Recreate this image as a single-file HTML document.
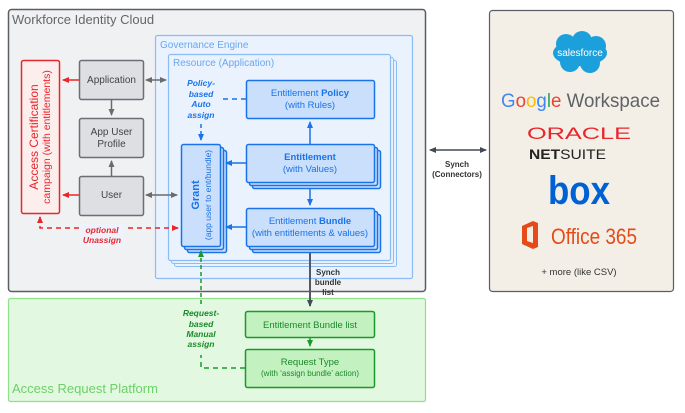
<!DOCTYPE html>
<html><head><meta charset="utf-8"><style>
html,body{margin:0;padding:0;background:#fff}
svg{display:block}
text{font-family:"Liberation Sans",Arial,sans-serif}
</style></head><body>
<svg width="685" height="413" viewBox="0 0 685 413" xmlns="http://www.w3.org/2000/svg">
<defs>
<marker id="ag" markerWidth="8" markerHeight="8" refX="6" refY="4" orient="auto-start-reverse" markerUnits="userSpaceOnUse"><path d="M0,1 L7,4 L0,7 Z" fill="#6b6b6b"/></marker>
<marker id="ad" markerWidth="8" markerHeight="8" refX="6" refY="4" orient="auto-start-reverse" markerUnits="userSpaceOnUse"><path d="M0,1 L7,4 L0,7 Z" fill="#444a55"/></marker>
<marker id="ar" markerWidth="8" markerHeight="8" refX="6" refY="4" orient="auto-start-reverse" markerUnits="userSpaceOnUse"><path d="M0,1 L7,4 L0,7 Z" fill="#e8262b"/></marker>
<marker id="ab" markerWidth="8" markerHeight="8" refX="6" refY="4" orient="auto-start-reverse" markerUnits="userSpaceOnUse"><path d="M0,1 L7,4 L0,7 Z" fill="#1a73e8"/></marker>
<marker id="agr" markerWidth="8" markerHeight="8" refX="6" refY="4" orient="auto-start-reverse" markerUnits="userSpaceOnUse"><path d="M0,1 L7,4 L0,7 Z" fill="#1a9a2a"/></marker>
</defs>

<rect x="8.5" y="9.5" width="417" height="282" rx="3" fill="#f0f1f3" stroke="#5a5d63" stroke-width="1.5"/>
<text x="12" y="24" font-size="13" fill="#666">Workforce Identity Cloud</text>

<rect x="155.5" y="35.5" width="257" height="243" rx="2" fill="#e9f2fd" stroke="#8cbcf5" stroke-width="1.2"/>
<text x="160" y="48" font-size="10" fill="#6aa7f0">Governance Engine</text>
<rect x="174.5" y="60.5" width="222" height="206" rx="2" fill="#e9f2fd" stroke="#8cbcf5"/>
<rect x="171.5" y="57.5" width="222" height="206" rx="2" fill="#e9f2fd" stroke="#8cbcf5"/>
<rect x="168.5" y="54.5" width="222" height="206" rx="2" fill="#e9f2fd" stroke="#8cbcf5" stroke-width="1.2"/>
<text x="173" y="66" font-size="10" fill="#6aa7f0">Resource (Application)</text>

<rect x="489.5" y="10.5" width="184" height="281" rx="3" fill="#f3efe6" stroke="#5a5d63" stroke-width="1.2"/>

<rect x="8.5" y="298.5" width="417" height="103" rx="2" fill="#e3f8e0" stroke="#8ee08a" stroke-width="1.2"/>
<text x="12" y="393" font-size="13" fill="#6cd168">Access Request Platform</text>

<rect x="21.5" y="60.5" width="38" height="153" rx="2" fill="#fdeeee" stroke="#e8262b" stroke-width="1.5"/>
<text transform="translate(40,137) rotate(-90)" text-anchor="middle" font-size="12" fill="#e8262b"><tspan x="0" dy="-2">Access Certification</tspan><tspan x="0" dy="12" font-size="10.5">campaign (with entitlements)</tspan></text>

<g fill="#dddfe3" stroke="#6b6e74" stroke-width="1.5">
<rect x="79.5" y="60.5" width="64" height="39" rx="2"/>
<rect x="79.5" y="118.5" width="64" height="39" rx="2"/>
<rect x="79.5" y="176.5" width="64" height="39" rx="2"/>
</g>
<g font-size="10" fill="#444" text-anchor="middle">
<text x="111.5" y="83">Application</text>
<text x="111.5" y="135">App User</text>
<text x="111.5" y="147">Profile</text>
<text x="111.5" y="198">User</text>
</g>
<g stroke="#6b6b6b" stroke-width="1.5" fill="none">
<line x1="111.5" y1="100" x2="111.5" y2="115" marker-end="url(#ag)"/>
<line x1="111.5" y1="176" x2="111.5" y2="161" marker-end="url(#ag)"/>
<line x1="146" y1="80" x2="166" y2="80" marker-start="url(#ag)" marker-end="url(#ag)"/>
<line x1="146" y1="195" x2="177" y2="195" marker-start="url(#ag)" marker-end="url(#ag)"/>
</g>
<g stroke="#e8262b" stroke-width="1.5" fill="none">
<line x1="79" y1="80" x2="63" y2="80" marker-end="url(#ar)"/>
<line x1="79" y1="195" x2="63" y2="195" marker-end="url(#ar)"/>
<path d="M178,228 L40,228 L40,217" stroke-dasharray="5,4" marker-start="url(#ar)" marker-end="url(#ar)"/>
</g>
<rect x="80" y="224" width="45" height="22" fill="#eef3fb"/>
<text x="102" y="233" font-size="8.5" font-weight="bold" font-style="italic" fill="#e8262b" text-anchor="middle">optional</text>
<text x="102" y="243" font-size="8.5" font-weight="bold" font-style="italic" fill="#e8262b" text-anchor="middle">Unassign</text>

<g stroke="#1a73e8" stroke-width="1.5" fill="#c9dffb">
<rect x="187.5" y="150.5" width="39" height="102" rx="2"/>
<rect x="184.5" y="147.5" width="39" height="102" rx="2"/>
<rect x="181.5" y="144.5" width="39" height="102" rx="2"/>
<rect x="246.5" y="80.5" width="128" height="38" rx="2"/>
<rect x="252.5" y="150.5" width="128" height="38" rx="2"/>
<rect x="249.5" y="147.5" width="128" height="38" rx="2"/>
<rect x="246.5" y="144.5" width="128" height="38" rx="2"/>
<rect x="252.5" y="214.5" width="128" height="38" rx="2"/>
<rect x="249.5" y="211.5" width="128" height="38" rx="2"/>
<rect x="246.5" y="208.5" width="128" height="38" rx="2"/>
</g>
<g font-size="9.5" fill="#1a73e8" text-anchor="middle">
<text x="310" y="96">Entitlement <tspan font-weight="bold">Policy</tspan></text>
<text x="310" y="108">(with Rules)</text>
<text x="310" y="160" font-weight="bold">Entitlement</text>
<text x="310" y="172">(with Values)</text>
<text x="310" y="224">Entitlement <tspan font-weight="bold">Bundle</tspan></text>
<text x="310" y="236">(with entitlements &amp; values)</text>
</g>
<text transform="translate(201,195) rotate(-90)" text-anchor="middle" fill="#1a73e8"><tspan x="0" dy="-2" font-size="11" font-weight="bold">Grant</tspan><tspan x="0" dy="12" font-size="8.5">(app user to ent/bundle)</tspan></text>

<g stroke="#1a73e8" stroke-width="1.5" fill="none">
<line x1="310" y1="144" x2="310" y2="122" marker-end="url(#ab)"/>
<line x1="310" y1="189" x2="310" y2="205" marker-end="url(#ab)"/>
<line x1="246" y1="163" x2="226" y2="163" marker-end="url(#ab)"/>
<line x1="246" y1="227" x2="226" y2="227" marker-end="url(#ab)"/>
<line x1="246" y1="99" x2="220" y2="99" stroke-dasharray="5,4"/>
<line x1="201" y1="124" x2="201" y2="140" stroke-dasharray="4,3" marker-end="url(#ab)"/>
</g>
<g font-size="8.5" font-weight="bold" font-style="italic" fill="#1a73e8" text-anchor="middle">
<text x="201" y="86">Policy-</text>
<text x="201" y="97">based</text>
<text x="201" y="107">Auto</text>
<text x="201" y="118">assign</text>
</g>

<line x1="310" y1="253" x2="310" y2="306" stroke="#555a62" stroke-width="2" marker-end="url(#ad)"/>
<g font-size="8" font-weight="bold" fill="#333" text-anchor="middle">
<text x="328" y="275">Synch</text>
<text x="328" y="285">bundle</text>
<text x="328" y="295">list</text>
</g>

<g fill="#c3f1c0" stroke="#1a9a2a" stroke-width="1.5">
<rect x="245.5" y="311.5" width="129" height="26" rx="2"/>
<rect x="245.5" y="349.5" width="129" height="38" rx="2"/>
</g>
<g fill="#1a8a2a" text-anchor="middle">
<text x="310" y="328" font-size="9.5">Entitlement Bundle list</text>
<text x="310" y="365" font-size="9.5">Request Type</text>
<text x="310" y="376" font-size="8">(with ‘assign bundle’ action)</text>
</g>
<g stroke="#1a9a2a" stroke-width="1.5" fill="none">
<line x1="310" y1="338" x2="310" y2="346" marker-end="url(#agr)"/>
<path d="M245,368 L201,368 L201,355" stroke-dasharray="5,4"/>
<path d="M201,304 L201,251" stroke-dasharray="4,3" marker-end="url(#agr)"/>
</g>
<g font-size="8.5" font-weight="bold" font-style="italic" fill="#1a8a2a" text-anchor="middle">
<text x="201" y="316">Request-</text>
<text x="201" y="327">based</text>
<text x="201" y="337">Manual</text>
<text x="201" y="347">assign</text>
</g>

<line x1="430" y1="150" x2="486" y2="150" stroke="#444a55" stroke-width="1.5" marker-start="url(#ad)" marker-end="url(#ad)"/>
<text x="457" y="167" font-size="8" font-weight="bold" fill="#333" text-anchor="middle">Synch</text>
<text x="457" y="177" font-size="8" font-weight="bold" fill="#333" text-anchor="middle">(Connectors)</text>

<g fill="#1ba0dc">
<ellipse cx="580" cy="53" rx="27" ry="13"/>
<circle cx="566" cy="44" r="10"/><circle cx="582" cy="41" r="10"/><circle cx="596" cy="46" r="10"/>
<circle cx="570" cy="62" r="10"/><circle cx="590" cy="63" r="10"/>
</g>
<text x="580" y="56" font-size="10" fill="#fff" text-anchor="middle">salesforce</text>
<text x="501" y="107" font-size="19.5" fill="#5f6368" textLength="159" lengthAdjust="spacingAndGlyphs"><tspan fill="#4285f4">G</tspan><tspan fill="#ea4335">o</tspan><tspan fill="#fbbc05">o</tspan><tspan fill="#4285f4">g</tspan><tspan fill="#34a853">l</tspan><tspan fill="#ea4335">e</tspan> Workspace</text>
<text x="579" y="139" font-size="17" fill="#e8262b" text-anchor="middle" textLength="104" lengthAdjust="spacingAndGlyphs">ORACLE</text>
<text x="529" y="159" font-size="13.5" fill="#222" textLength="77" lengthAdjust="spacingAndGlyphs"><tspan font-weight="bold">NET</tspan>SUITE</text>
<text x="579" y="204" font-size="40" font-weight="bold" fill="#0061d5" text-anchor="middle" textLength="62" lengthAdjust="spacingAndGlyphs">box</text>
<path d="M522,226 L533,221 L538,223 L538,247 L533,249 L522,244 Z M527,228 L527,241 L533,243 L533,226 Z" fill="#e64a19"/>
<text x="551" y="244" font-size="22" fill="#e64a19" textLength="86" lengthAdjust="spacingAndGlyphs">Office 365</text>
<text x="579" y="275" font-size="9.5" fill="#333" text-anchor="middle">+ more (like CSV)</text>
</svg>
</body></html>
